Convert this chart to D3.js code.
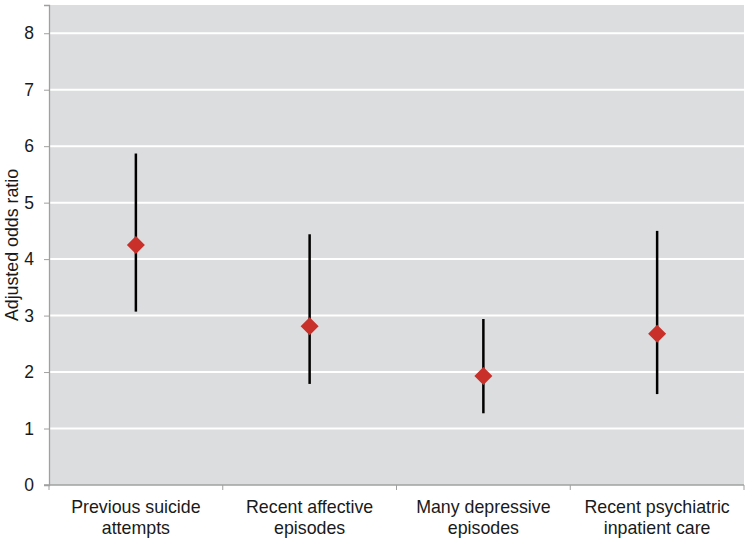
<!DOCTYPE html>
<html>
<head>
<meta charset="utf-8">
<script src="https://cdn.jsdelivr.net/npm/d3@7"></script>
<style>
  html, body { margin: 0; padding: 0; background: #ffffff; }
  svg { display: block; font-family: "Liberation Sans", Arial, sans-serif; }
</style>
</head>
<body>
<svg id="chart" width="750" height="540"></svg>
<script>
const categories = [
  ["Previous suicide", "attempts"],
  ["Recent affective", "episodes"],
  ["Many depressive", "episodes"],
  ["Recent psychiatric", "inpatient care"]
];
const oddsRatio = [4.25, 2.81, 1.93, 2.68];
const ciLower = [3.07, 1.79, 1.27, 1.61];
const ciUpper = [5.87, 4.44, 2.94, 4.50];
const yTicks = [0, 1, 2, 3, 4, 5, 6, 7, 8];
const yTitle = "Adjusted odds ratio";

const svg = d3.select("#chart");
const margin = { left: 49, right: 6, top: 5, bottom: 55 };
const W = 750, H = 540;
const x = d3.scaleBand()
  .domain(d3.range(categories.length))
  .range([margin.left, W - margin.right])
  .padding(0);
const y = d3.scaleLinear().domain([0, 8.5]).range([H - margin.bottom, margin.top]);

// plot background
svg.append("rect")
  .attr("x", margin.left).attr("y", margin.top)
  .attr("width", W - margin.right - margin.left)
  .attr("height", y(0) - margin.top)
  .attr("fill", "#dcdddf");

// gridlines
svg.append("g").selectAll("line")
  .data(yTicks.filter(d => d > 0))
  .join("line")
  .attr("x1", margin.left).attr("x2", W - margin.right)
  .attr("y1", d => y(d)).attr("y2", d => y(d))
  .attr("stroke", "#ffffff").attr("stroke-width", 2);

// y axis
const yAxis = svg.append("g")
  .attr("transform", `translate(${margin.left},0)`)
  .call(d3.axisLeft(y).tickValues(yTicks).tickSize(5).tickPadding(10).tickFormat(d3.format("d")));
yAxis.select(".domain").attr("stroke", "#a0a0a0").attr("stroke-width", 1.3);
yAxis.selectAll(".tick line").attr("stroke", "#a0a0a0");
yAxis.selectAll(".tick text").attr("font-size", 17.5).attr("fill", "#1a1a1a")
  .attr("font-family", "Liberation Sans, Arial, sans-serif");

// x axis
const xAxisG = svg.append("g").attr("transform", `translate(0,${y(0)})`);
xAxisG.append("line")
  .attr("x1", margin.left - 5).attr("x2", W - margin.right)
  .attr("stroke", "#a0a0a0").attr("stroke-width", 1.3);
const bounds = d3.range(categories.length + 1).map(i => i < categories.length ? x(i) : x(i - 1) + x.bandwidth());
xAxisG.selectAll("line.tk").data(bounds).join("line").attr("class", "tk")
  .attr("x1", d => d).attr("x2", d => d).attr("y1", 0).attr("y2", 5)
  .attr("stroke", "#a0a0a0").attr("stroke-width", 1);
const labels = xAxisG.selectAll("text.cat").data(categories).join("text").attr("class", "cat")
  .attr("x", (d, i) => x(i) + x.bandwidth() / 2)
  .attr("y", 28)
  .attr("text-anchor", "middle")
  .attr("font-size", 17.8).attr("fill", "#1a1a1a");
labels.selectAll("tspan").data(d => d).join("tspan")
  .attr("x", function() { return d3.select(this.parentNode).attr("x"); })
  .attr("dy", (d, i) => i === 0 ? 0 : 21)
  .text(d => d);

// y title
svg.append("text")
  .attr("transform", `translate(18,${(margin.top + y(0)) / 2}) rotate(-90)`)
  .attr("text-anchor", "middle")
  .attr("font-size", 17.8).attr("fill", "#1a1a1a")
  .text(yTitle);

// error bars
const cx = i => x(i) + x.bandwidth() / 2;
svg.append("g").selectAll("line")
  .data(d3.range(categories.length))
  .join("line")
  .attr("x1", cx).attr("x2", cx)
  .attr("y1", i => y(ciLower[i])).attr("y2", i => y(ciUpper[i]))
  .attr("stroke", "#000000").attr("stroke-width", 2.5);

// diamonds
svg.append("g").selectAll("path")
  .data(d3.range(categories.length))
  .join("path")
  .attr("transform", i => `translate(${cx(i)},${y(oddsRatio[i])})`)
  .attr("d", "M0,-9L9,0L0,9L-9,0Z")
  .attr("fill", "#c9302a");
</script>
</body>
</html>
